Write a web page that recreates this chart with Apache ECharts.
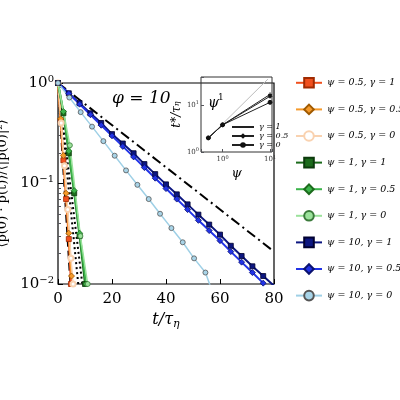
<!DOCTYPE html>
<html>
<head>
<meta charset="utf-8"/>
<script src="https://cdn.jsdelivr.net/npm/echarts@6/dist/echarts.min.js"></script>
<style>html,body{margin:0;padding:0;background:#fff}#main{width:400px;height:400px}</style>
</head>
<body>
<div id="main"></div>
<script>
// main panel data: [t/tau_eta, correlation]
var p05g1 = [[0, 1], [1, 0.42], [2, 0.17], [3, 0.07], [4, 0.028], [4.8, 0.01]];
var p05g05 = [[0, 1], [1, 0.44], [2, 0.19], [3, 0.08], [4, 0.032], [5, 0.012]];
var p05g0 = [[0, 1], [1.2, 0.4], [2.4, 0.15], [3.6, 0.055], [4.8, 0.018], [5.6, 0.01]];
var p1g1 = [[0, 1], [2, 0.5], [4, 0.2], [6, 0.08], [8, 0.03], [10, 0.01]];
var p1g05 = [[0, 1], [2, 0.52], [4, 0.21], [6, 0.085], [8, 0.032], [10.4, 0.01]];
var p1g0 = [[0, 1], [4.4, 0.24], [8.3, 0.03], [11, 0.01]];
var p10g1 = [[0, 1], [4, 0.79], [8, 0.63], [12, 0.5], [16, 0.4], [20, 0.31], [24, 0.25], [28, 0.2], [32, 0.156], [36, 0.124], [40, 0.098], [44, 0.078], [48, 0.062], [52, 0.049], [56, 0.039], [60, 0.031], [64, 0.024], [68, 0.019], [72, 0.015], [76, 0.012], [80, 0.0096]];
var p10g05 = [[0, 1], [4, 0.785], [8, 0.616], [12, 0.484], [16, 0.38], [20, 0.298], [24, 0.234], [28, 0.184], [32, 0.144], [36, 0.113], [40, 0.089], [44, 0.07], [48, 0.055], [52, 0.043], [56, 0.034], [60, 0.027], [64, 0.021], [68, 0.0165], [72, 0.013], [76, 0.0102]];
var p10g0 = [[0, 1], [4.2, 0.717], [8.4, 0.513], [12.6, 0.368], [16.8, 0.264], [21, 0.189], [25.2, 0.135], [29.4, 0.097], [33.6, 0.07], [37.8, 0.05], [42, 0.036], [46.2, 0.026], [50.4, 0.018], [54.6, 0.013], [56.5, 0.0094]];
var refDashDot = [[0, 1], [80, 0.021]];
var refDashed = [[0, 1], [4.6, 0.01]];
var refDotA = [[0, 1], [7.5, 0.01]];
var refDotB = [[0, 1], [9, 0.01]];
// inset data: [psi, t*/tau_eta]
var insetG1 = [[0.5, 2], [1, 3.8], [10, 17]];
var insetG05 = [[0.5, 2], [1, 3.8], [10, 15.5]];
var insetG0 = [[0.5, 2], [1, 3.8], [10, 11.5]];
var insetPsi1 = [[0.5, 2], [9, 36]];
var yTicks = {1: '0', 0.1: '−1', 0.01: '−2'};

var serif = 'DejaVu Serif';
var myChart = echarts.init(document.getElementById('main'));

function mainLine(name, data, color, symbol, border, size, width) {
    return {
        name: name, type: 'line', data: data, xAxisIndex: 0, yAxisIndex: 0,
        symbol: symbol, symbolSize: size || 5, showSymbol: symbol !== 'none',
        lineStyle: {color: color, width: width || 2},
        itemStyle: {color: color, borderColor: border, borderWidth: 0.8},
        z: 3
    };
}
function refLine(data, type) {
    return {
        type: 'line', data: data, symbol: 'none', xAxisIndex: 0, yAxisIndex: 0,
        lineStyle: {color: '#000', width: 2, type: type}, z: 2
    };
}
function insetLine(name, data, symbol) {
    return {
        name: name, type: 'line', data: data, xAxisIndex: 1, yAxisIndex: 1,
        symbol: symbol, symbolSize: 4,
        lineStyle: {color: '#222', width: 1}, itemStyle: {color: '#111', borderColor: '#111'}, z: 5
    };
}
function logLabel(v) { return v === 1 ? '10{s|0}' : (v === 10 ? '10{s|1}' : ''); }

var option = {
    animation: false,
    textStyle: {fontFamily: serif},
    grid: [
        {left: 58, top: 83, right: 126, bottom: 116, show: true, borderColor: '#000', borderWidth: 1.2, containLabel: false, outerBoundsMode: 'none'},
        {left: 201, top: 77, width: 71, height: 75, show: true, borderColor: '#333', borderWidth: 1, containLabel: false, outerBoundsMode: 'none'}
    ],
    xAxis: [
        {type: 'value', gridIndex: 0, min: 0, max: 80, interval: 20, splitLine: {show: false},
            axisLine: {show: false}, axisTick: {inside: true, lineStyle: {color: '#000'}},
            axisLabel: {fontSize: 15, color: '#000', fontFamily: serif},
            name: 't/τ{s|η}', nameLocation: 'middle', nameGap: 22,
            nameTextStyle: {fontSize: 16, fontStyle: 'italic', color: '#000', rich: {s: {fontSize: 11, fontStyle: 'italic', verticalAlign: 'bottom', padding: [8, 0, 0, 0]}}}},
        {type: 'log', gridIndex: 1, min: 0.35, max: 11, splitLine: {show: false}, axisLine: {show: false},
            axisTick: {inside: true, length: 3}, minorTick: {show: false},
            axisLabel: {fontSize: 7, color: '#333', formatter: logLabel, margin: 3,
                rich: {s: {fontSize: 5, verticalAlign: 'top', padding: [0, 0, 4, 0]}}},
            name: 'ψ', nameLocation: 'middle', nameGap: 15, nameTextStyle: {fontSize: 13, fontStyle: 'italic', color: '#000'}}
    ],
    yAxis: [
        {type: 'log', gridIndex: 0, min: 0.01, max: 1, splitLine: {show: false}, axisLine: {show: false},
            axisTick: {inside: true, lineStyle: {color: '#000'}}, minorTick: {show: true, splitNumber: 9},
            axisLabel: {fontSize: 15, color: '#000', fontFamily: serif, margin: 4,
                formatter: function (v) { var k = Math.abs(v - 1) < 1e-6 ? 1 : (Math.abs(v - 0.1) < 1e-6 ? 0.1 : 0.01); return '10{s|' + yTicks[k] + '}'; },
                rich: {s: {fontSize: 10, verticalAlign: 'top', padding: [0, 0, 8, 0]}}},
            name: '⟨p(0) · p(t)⟩/⟨|p(0)|²⟩', nameLocation: 'middle', nameGap: 44, nameRotate: 90,
            nameTextStyle: {fontSize: 13, color: '#000'}},
        {type: 'log', gridIndex: 1, min: 1, max: 40, splitLine: {show: false}, axisLine: {show: false},
            axisTick: {inside: true, length: 3}, minorTick: {show: false},
            axisLabel: {fontSize: 7, color: '#333', formatter: logLabel, margin: 2,
                rich: {s: {fontSize: 5, verticalAlign: 'top', padding: [0, 0, 4, 0]}}},
            name: 't*/τ{s|η}', nameLocation: 'middle', nameGap: 14, nameRotate: 90,
            nameTextStyle: {fontSize: 12, fontStyle: 'italic', color: '#000', rich: {s: {fontSize: 8, fontStyle: 'italic'}}}}
    ],
    legend: [
        {left: 290, top: 72, orient: 'vertical', itemGap: 15, itemWidth: 26, itemHeight: 12,
            textStyle: {fontSize: 9.5, fontStyle: 'italic', fontFamily: serif, color: '#000'},
            data: ['ψ = 0.5, γ = 1', 'ψ = 0.5, γ = 0.5', 'ψ = 0.5, γ = 0', 'ψ = 1, γ = 1', 'ψ = 1, γ = 0.5', 'ψ = 1, γ = 0',
                'ψ = 10, γ = 1', 'ψ = 10, γ = 0.5', 'ψ = 10, γ = 0']},
        {left: 226, top: 118, orient: 'vertical', itemGap: 1, itemWidth: 22, itemHeight: 7,
            textStyle: {fontSize: 8, fontStyle: 'italic', fontFamily: serif, color: '#000'},
            data: ['γ = 1', 'γ = 0.5', 'γ = 0']}
    ],
    graphic: [
        {type: 'text', left: 112, top: 90, style: {text: 'φ = 10', font: 'italic 17px "DejaVu Serif"', fill: '#000'}},
        {type: 'text', left: 208, top: 96, z: 20, style: {text: 'ψ', font: 'italic 14px "DejaVu Serif"', fill: '#000'}},
        {type: 'text', left: 218, top: 93, z: 20, style: {text: '1', font: '9px "DejaVu Serif"', fill: '#000'}}
    ],
    series: [
        mainLine('ψ = 0.5, γ = 1', p05g1, '#f0501e', 'rect', '#a02a00'),
        mainLine('ψ = 0.5, γ = 0.5', p05g05, '#f59a2c', 'diamond', '#a05a00', 6),
        mainLine('ψ = 0.5, γ = 0', p05g0, '#f9d2b0', 'emptyCircle', '#c08060', 5, 1.5),
        mainLine('ψ = 1, γ = 1', p1g1, '#1c6b1c', 'rect', '#0c3a0c'),
        mainLine('ψ = 1, γ = 0.5', p1g05, '#3cb44b', 'diamond', '#1c6b1c', 6),
        mainLine('ψ = 1, γ = 0', p1g0, '#9be29b', 'circle', '#3a7a3a', 5, 1.5),
        mainLine('ψ = 10, γ = 1', p10g1, '#0c1680', 'rect', '#000030'),
        mainLine('ψ = 10, γ = 0.5', p10g05, '#2233e6', 'diamond', '#0a1270', 6),
        Object.assign(mainLine('ψ = 10, γ = 0', p10g0, '#9fd0e6', 'circle', '#555', 5, 1.5), {itemStyle: {color: '#a8d4e8', borderColor: '#555', borderWidth: 0.8}}),
        refLine(refDashDot, [10, 4, 2, 4]),
        refLine(refDashed, [8, 4]),
        refLine(refDotA, [2, 3]),
        refLine(refDotB, [2, 3]),
        {type: 'line', data: insetPsi1, xAxisIndex: 1, yAxisIndex: 1, symbol: 'none', lineStyle: {color: '#bbb', width: 1}},
        insetLine('γ = 1', insetG1, 'path://M0,5L10,5M5,0L5,10'),
        insetLine('γ = 0.5', insetG05, 'diamond'),
        insetLine('γ = 0', insetG0, 'circle')
    ]
};
myChart.setOption(option);
window.onresize = function () { myChart.resize(); };
</script>
</body>
</html>
